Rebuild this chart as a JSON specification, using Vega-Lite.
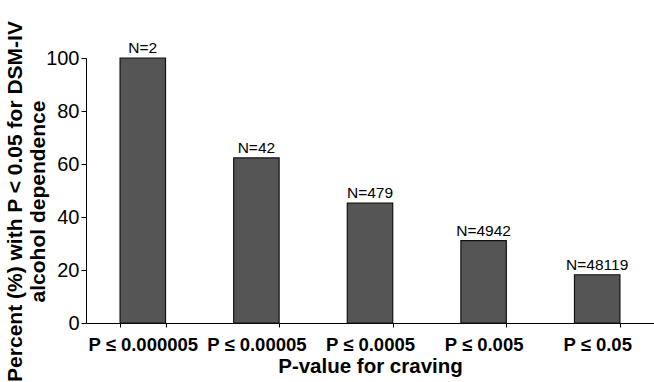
{
  "$schema": "https://vega.github.io/schema/vega-lite/v6.json",
  "autosize": "none",
  "width": 568,
  "height": 265,
  "padding": {"left": 86, "top": 58, "right": 0, "bottom": 59},
  "background": "white",
  "config": {
    "view": {"stroke": null},
    "font": "Liberation Sans"
  },
  "data": {
    "values": [
      {"cat": "P ≤ 0.000005", "pct": 100, "n": "N=2"},
      {"cat": "P ≤ 0.00005", "pct": 62.3, "n": "N=42"},
      {"cat": "P ≤ 0.0005", "pct": 45.2, "n": "N=479"},
      {"cat": "P ≤ 0.005", "pct": 31.1, "n": "N=4942"},
      {"cat": "P ≤ 0.05", "pct": 18.2, "n": "N=48119"}
    ]
  },
  "encoding": {
    "x": {
      "field": "cat",
      "type": "nominal",
      "sort": null,
      "scale": {"paddingInner": 0.6, "paddingOuter": 0.3},
      "axis": {
        "title": "P-value for craving",
        "labelAngle": 0,
        "labelFontSize": 18.5,
        "labelFontWeight": "bold",
        "labelColor": "black",
        "labelPadding": 8,
        "tickBand": "extent",
        "tickSize": 4,
        "tickColor": "black",
        "domainColor": "black",
        "titleFontSize": 20.5,
        "titleFontWeight": "bold",
        "titleColor": "black",
        "titlePadding": 3
      }
    },
    "y": {
      "field": "pct",
      "type": "quantitative",
      "scale": {"domain": [0, 100]},
      "axis": {
        "title": ["Percent (%) with P < 0.05 for DSM-IV", "alcohol dependence\u00a0\u00a0\u00a0\u00a0"],
        "values": [0, 20, 40, 60, 80, 100],
        "grid": false,
        "labelFontSize": 20,
        "labelColor": "black",
        "labelPadding": 2,
        "tickSize": 5,
        "tickColor": "black",
        "domainColor": "black",
        "titleFontSize": 21,
        "titleFontWeight": "bold",
        "titleColor": "black",
        "titlePadding": -3,
        "titleLineHeight": 23,
        "titleY": 143
      }
    }
  },
  "layer": [
    {
      "mark": {"type": "bar", "fill": "#555555", "stroke": "#111111", "strokeWidth": 1.2}
    },
    {
      "mark": {"type": "text", "dy": -10, "fontSize": 15.5, "color": "black"},
      "encoding": {"text": {"field": "n"}}
    }
  ]
}
